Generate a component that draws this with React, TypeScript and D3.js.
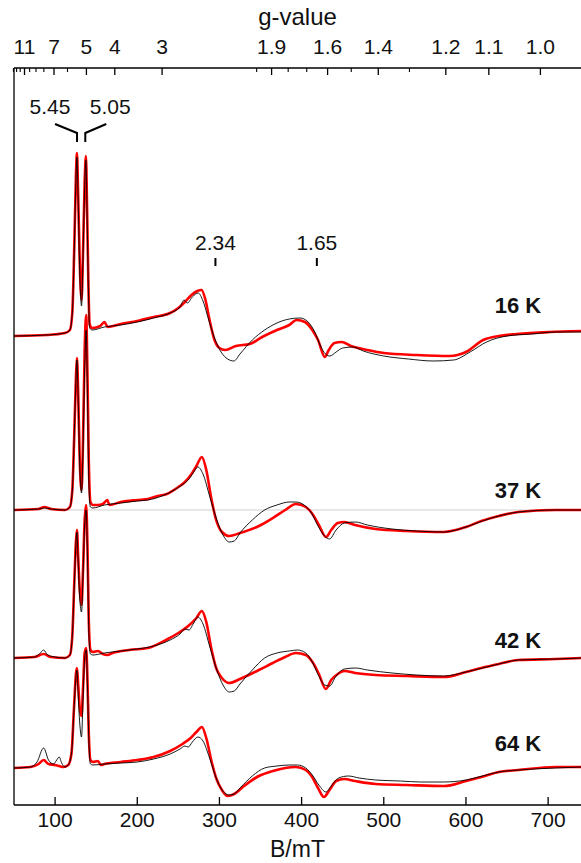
import React from "react";
import * as d3 from "d3";

// field (mT) / relative intensity pairs
const exp16: [number, number][] = [[50,-4],[90,-3],[112,-1],[118,2],[121,20],[123.5,90],[125.5,160],[126.6,179],[128,140],[130,70],[132.2,32],[134,80],[136,150],[137.5,176],[139,120],[140.5,50],[142,8],[145,4],[155,6],[160,10],[164,5],[180,8],[200,11],[220,15],[240,19],[250,24],[258,30],[266,37],[273,41],[278.3,42],[283,32],[288,12],[294,-8],[300,-16],[307,-18],[320,-14],[337,-12],[352,-5],[370,2],[385,7],[394,12],[404,10],[413,2],[420,-8],[428.3,-25],[433,-18],[440,-11],[448.7,-10],[460,-14],[480,-18],[500,-21],[540,-23],[580,-24],[600,-20],[621,-8],[640,-4],[662,-2],[702,0],[740,1]];
const sim16: [number, number][] = [[50,-4],[90,-3],[112,-1],[118,2],[121,20],[123.5,88],[125.5,155],[126.6,175],[128,135],[130,60],[132.2,26],[134,75],[136,145],[137.5,172],[139,115],[140.5,45],[142,4],[145,2],[160,5],[180,7],[200,10],[220,14],[240,19],[252,25],[257,32],[261,29],[267,35],[274.2,39],[280,31],[287,12],[294,-6],[302,-20],[310,-27],[317.6,-29],[325,-22],[340,-8],[355,2],[370,9],[385,13],[398,14],[408,10],[416,0],[423,-14],[429,-22],[434.4,-24],[442,-20],[450,-16],[462.8,-15],[475,-19],[500,-24],[530,-27],[560,-29],[585,-28],[605,-20],[625,-10],[650,-4],[680,-2],[710,0],[740,0]];
const exp37: [number, number][] = [[50,0],[80,1],[87,3],[95,1],[112,0],[118,3],[121,20],[123.5,80],[125.5,135],[126.6,152],[128,120],[130,50],[132.2,20],[134,70],[136,160],[137.8,195],[139.5,130],[141,50],[143,8],[146,5],[152,5],[158,6],[163.6,10],[166,5],[180,8],[200,10],[213,11],[225,14],[236,16],[250,23],[258,28],[266,36],[272,44],[278.6,53],[284,40],[290,12],[296,-10],[303,-22],[312,-26],[325,-23],[348,-16],[365,-8],[380,0],[393,6],[405,3],[414,-5],[421,-15],[429.6,-27],[436,-20],[444,-13],[452,-12],[465,-15],[490,-19],[528,-21],[573,-22],[600,-17],[618.7,-11],[640,-6],[663.7,-2],[709,0],[740,0]];
const sim37: [number, number][] = [[50,0],[80,1],[87,2],[95,1],[112,0],[118,3],[121,20],[123.5,80],[125.5,132],[126.6,150],[128,115],[130,45],[132.2,17],[134,60],[136,140],[137.8,180],[139.5,110],[141,30],[143,3],[146,2],[160,5],[180,7],[200,9],[213,10],[230,14],[245,20],[256,26],[262,30],[268,37],[273.8,43],[280,36],[288,14],[296,-8],[305,-26],[312,-32],[318,-31],[325,-23],[340,-10],[355,0],[370,5],[385,8],[393,8],[403,5],[412,-3],[420,-16],[428,-26],[434,-29],[442,-20],[452,-13],[465.6,-12],[480,-15],[510,-19],[540,-21],[573,-22],[600,-17],[620,-11],[640,-6],[664,-2],[709,0],[740,0]];
const exp42: [number, number][] = [[50,2],[75,3],[86,6],[95,3],[112,2],[118,5],[121,25],[123.5,80],[125.5,120],[126.6,130],[128,105],[130,70],[132.2,55],[134,90],[136,140],[137.8,155],[139.5,110],[141,40],[143,10],[146,8],[152,9],[158,6],[163.6,5],[170,7],[190,10],[213,12],[235,20],[250,27],[262,34],[272,42],[278.6,49],[284,38],[290,12],[296,-8],[303,-18],[312,-23],[325,-19],[348,-10],[365,-3],[380,3],[393,7],[405,5],[414,-3],[421,-14],[429.6,-29],[436,-20],[444,-14],[452,-11],[465,-13],[490,-15],[528,-16],[573,-17],[600,-12],[618.7,-8],[640,-4],[663.7,0],[709,1],[740,2]];
const sim42: [number, number][] = [[50,2],[75,3],[81,6],[86,10],[91,5],[100,3],[112,2],[118,5],[121,25],[123.5,78],[125.5,118],[126.6,128],[128,100],[130,62],[132.2,48],[134,85],[136,135],[137.8,150],[139.5,100],[141,30],[143,6],[146,5],[160,7],[180,9],[200,11],[220,14],[240,20],[252,26],[258,31],[263,30],[268,36],[273.8,43],[280,36],[288,14],[296,-8],[305,-26],[312,-32],[318,-31],[325,-24],[340,-10],[355,2],[370,7],[385,9],[395,10],[405,7],[413,-2],[421,-16],[428,-25],[434,-26],[442,-16],[452,-9],[465.6,-8],[480,-10],[510,-13],[540,-15],[573,-16],[600,-12],[620,-8],[640,-4],[664,0],[709,1],[740,2]];
const exp64: [number, number][] = [[50,0],[70,1],[80,4],[86,8],[92,4],[100,3],[105,2],[110,1],[116,3],[120,15],[123,60],[125.5,95],[126.6,100],[128,85],[130,60],[132.2,52],[134,80],[136,115],[137.8,120],[139.5,85],[141,35],[143,8],[146,6],[152,7],[156,3],[160,4],[180,6],[200,8],[220,11],[240,17],[255,24],[265,30],[272,36],[278.6,41],[284,30],[290,8],[296,-10],[303,-22],[310,-28],[318,-26],[330,-18],[348,-8],[365,-3],[380,0],[393,1],[405,-2],[412,-8],[420,-20],[427,-29],[434,-22],[442,-13],[452,-11],[465,-13],[490,-16],[528,-17],[573,-18],[600,-13],[618.7,-9],[640,-4],[663.7,-2],[709,1],[740,1]];
const sim64: [number, number][] = [[50,0],[70,1],[78,6],[86,20],[92,8],[98,4],[102,8],[105,11],[108,5],[112,1],[116,3],[120,15],[123,58],[125.5,92],[126.6,98],[128,75],[130,45],[132.2,31],[134,70],[136,110],[137.8,118],[139.5,80],[141,30],[143,4],[146,3],[160,4],[180,5],[200,6],[220,9],[240,14],[252,19],[258,22],[262,21],[267,26],[273.8,31],[280,27],[288,10],[296,-10],[305,-24],[312,-27],[318,-26],[325,-20],[340,-8],[355,0],[370,2],[385,3],[395,3],[405,0],[413,-7],[421,-17],[429.6,-24],[436,-18],[445,-10],[457,-8],[470,-10],[490,-12],[520,-13],[545,-14],[573,-14],[600,-12],[620,-8],[640,-4],[664,-2],[709,0],[740,1]];

const temps = ["16 K", "37 K", "42 K", "64 K"];
const offsets = [473, 295, 145, 37];
const expSeries = [exp16, exp37, exp42, exp64];
const simSeries = [sim16, sim37, sim42, sim64];

const bTicks = [100, 200, 300, 400, 500, 600, 700];
const gMajor = [11, 7, 5, 4, 3, 1.9, 1.6, 1.4, 1.2, 1.1, 1.0];
const gMinor = [14, 13, 12, 10, 9, 8, 6, 2.0, 1.8, 1.7, 1.5, 1.3];
const gMarks = [2.34, 1.65];
const gPair = [5.45, 5.05];
const hvOverMuB = 690.6; // mT, g * B

export default function App() {
  const W = 581, H = 863;
  const left = 14, right = 581, top = 68, bottom = 805;
  const x = d3.scaleLinear().domain([50, 740]).range([left, right]);
  const y = d3.scaleLinear().domain([0, 737]).range([bottom, top]);
  const font = "'Liberation Sans', Arial, sans-serif";
  const gx = (g: number) => x(hvOverMuB / g);

  const lineFor = (off: number) =>
    d3.line<[number, number]>()
      .x((d) => x(d[0]))
      .y((d) => y(d[1] + off))
      .curve(d3.curveMonotoneX);

  return (
    <svg width={W} height={H} style={{ position: "absolute", left: 0, top: 0, background: "#fff" }}>
      <defs>
        <clipPath id="plot">
          <rect x={left} y={top} width={right - left} height={bottom - top} />
        </clipPath>
      </defs>
      {/* grey baseline of 37 K */}
      <line x1={left} x2={right} y1={y(offsets[1])} y2={y(offsets[1])} stroke="#cfcfcf" strokeWidth={1} />
      <g clipPath="url(#plot)">
        {expSeries.map((s, i) => (
          <path key={"e" + i} d={lineFor(offsets[i])(s) || ""} fill="none" stroke="#ff0000" strokeWidth={2.6} strokeLinejoin="round" />
        ))}
        {simSeries.map((s, i) => (
          <path key={"s" + i} d={lineFor(offsets[i])(s) || ""} fill="none" stroke="#000" strokeWidth={0.9} strokeLinejoin="round" />
        ))}
      </g>
      {/* axes */}
      <line x1={left} x2={right} y1={top} y2={top} stroke="#000" strokeWidth={1.3} />
      <line x1={left} x2={right} y1={bottom} y2={bottom} stroke="#000" strokeWidth={1.3} />
      <line x1={left} x2={left} y1={top} y2={bottom} stroke="#000" strokeWidth={1.3} />
      {bTicks.map((t) => (
        <g key={"b" + t}>
          <line x1={x(t)} x2={x(t)} y1={bottom} y2={bottom - 8} stroke="#000" strokeWidth={1.3} />
          <text x={x(t)} y={bottom + 22} textAnchor="middle" fontFamily={font} fontSize={21} fill="#111">{t}</text>
        </g>
      ))}
      <text x={x(395)} y={857} textAnchor="middle" fontFamily={font} fontSize={23} fill="#111">B/mT</text>
      {gMajor.map((g) => (
        <g key={"g" + g}>
          <line x1={gx(g)} x2={gx(g)} y1={top} y2={top + 7} stroke="#000" strokeWidth={1.3} />
          <text x={gx(g)} y={top - 14} textAnchor="middle" fontFamily={font} fontSize={21} fill="#111">{g === 1 ? "1.0" : String(g)}</text>
        </g>
      ))}
      {gMinor.map((g) => (
        <line key={"gm" + g} x1={gx(g)} x2={gx(g)} y1={top} y2={top + 4} stroke="#000" strokeWidth={1.1} />
      ))}
      <text x={x(395)} y={25} textAnchor="middle" fontFamily={font} fontSize={24} fill="#111">g-value</text>
      {/* annotations */}
      {gMarks.map((g) => (
        <g key={"m" + g}>
          <line x1={gx(g)} x2={gx(g)} y1={258} y2={266} stroke="#000" strokeWidth={2} />
          <text x={gx(g)} y={250} textAnchor="middle" fontFamily={font} fontSize={21} fill="#111">{g.toFixed(2)}</text>
        </g>
      ))}
      <path d={`M${gx(gPair[0]) - 22},124 L${gx(gPair[0])},133 L${gx(gPair[0])},142`} fill="none" stroke="#000" strokeWidth={2} />
      <path d={`M${gx(gPair[1]) + 21},124 L${gx(gPair[1])},133 L${gx(gPair[1])},142`} fill="none" stroke="#000" strokeWidth={2} />
      <text x={gx(gPair[0]) - 27} y={114} textAnchor="middle" fontFamily={font} fontSize={21} fill="#111">{gPair[0].toFixed(2)}</text>
      <text x={gx(gPair[1]) + 25} y={114} textAnchor="middle" fontFamily={font} fontSize={21} fill="#111">{gPair[1].toFixed(2)}</text>
      {temps.map((t, i) => (
        <text key={t} x={518} y={y(offsets[i]) - [19, 12, 12, 17][i]} textAnchor="middle" fontFamily={font} fontSize={22} fontWeight="bold" fill="#111">{t}</text>
      ))}
    </svg>
  );
}
